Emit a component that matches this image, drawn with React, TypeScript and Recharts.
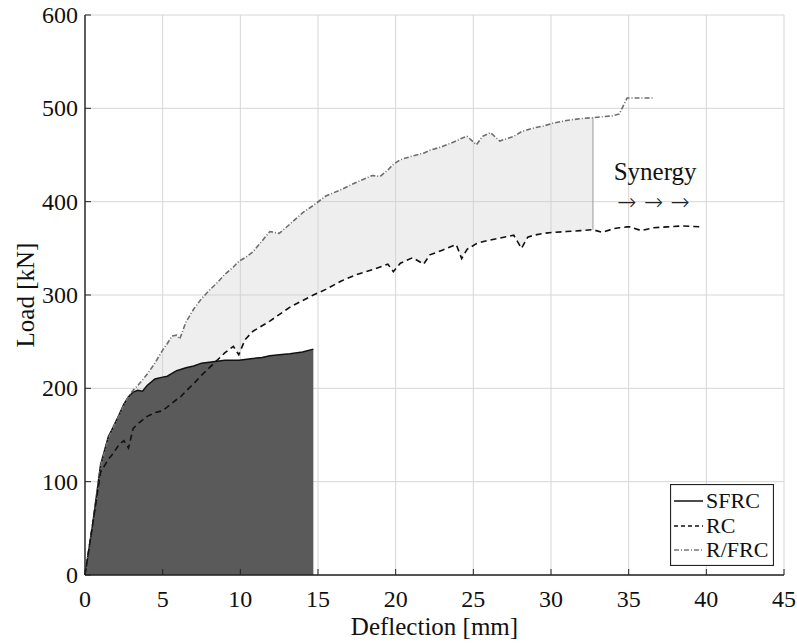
import {
  ComposedChart,
  Line,
  Area,
  XAxis,
  YAxis,
  CartesianGrid,
  Legend,
  ReferenceLine,
  ReferenceDot,
} from "recharts";

// deflection [mm] sample points shared by all three curves
const deflection = [
  0, 0.5, 1.0, 1.5, 1.8, 2.2, 2.5, 2.8, 3.1, 3.4, 3.7, 4.0, 4.5, 5.0, 5.3, 5.6, 5.9, 6.1,
  6.5, 7.0, 7.5, 8.0, 8.5, 9.0, 9.55, 9.9, 10.3, 10.8, 11.4, 11.9, 12.5, 13.2, 14.0, 14.7,
  15.5, 16.5, 17.5, 18.5, 19.0, 19.5, 19.85, 20.3, 21.1, 21.8, 22.2, 23.0, 23.9, 24.25,
  24.6, 25.2, 25.6, 26.1, 26.7, 27.6, 28.1, 28.5, 28.9, 29.5, 30.1, 31.0, 31.9, 32.7,
  33.3, 34.0, 34.4, 34.9, 35.1, 35.8, 36.6, 37.5, 38.5, 39.6,
];

// load [kN]; SFRC stops at 14.7 mm, R/FRC at 36.6 mm
const sfrcLoad = [
  0, 55, 118, 148, 158, 172, 183, 191, 196, 198, 197, 203, 210, 212, 213, 216, 219, 220,
  222, 224, 227, 228, 229, 230, 230, 230, 231, 232, 233, 235, 236, 237, 239, 242,
];

const rcLoad = [
  0, 55, 110, 124, 130, 140, 144, 136, 157, 162, 166, 170, 174, 176, 180, 184, 188, 190,
  197, 205, 214, 222, 230, 238, 245, 236, 252, 261, 267, 272, 279, 287, 294, 300,
  306, 315, 322, 327, 330, 333, 325, 334, 340, 333, 343, 348, 354, 339,
  349, 355, 357, 359, 361, 364, 350, 362, 364, 366, 367, 368, 369, 370,
  367, 371, 372, 373, 373, 369, 372, 373, 374, 373,
];

const rfrcLoad = [
  0, 55, 116, 146, 157, 171, 182, 191, 198, 203, 209, 215, 227, 241, 248, 256, 257, 253,
  271, 285, 296, 305, 313, 322, 330, 336, 340, 346, 358, 368, 366, 376, 388, 396,
  406, 413, 421, 428, 427, 434, 440, 445, 449, 452, 455, 459, 465, 468,
  470, 461, 470, 474, 465, 470, 475, 477, 479, 481, 484, 487, 489, 490,
  491, 492, 494, 511, 511, 511, 511,
];

const seriesNames = ["SFRC", "RC", "R/FRC"];
const xTicks = [0, 5, 10, 15, 20, 25, 30, 35, 40, 45];
const yTicks = [0, 100, 200, 300, 400, 500, 600];
const synergyStart = 2.8;
const synergyEnd = 32.7;

const rows = deflection.map((x, i) => ({
  x,
  sfrc: sfrcLoad[i] ?? null,
  rc: rcLoad[i] ?? null,
  rfrc: rfrcLoad[i] ?? null,
  band:
    x >= synergyStart && x <= synergyEnd ? [rcLoad[i], rfrcLoad[i]] : null,
}));

const endIdx = deflection.indexOf(synergyEnd);

const FONT = "'Liberation Serif', 'Times New Roman', serif";
const AXIS = "#222";
const tickText = { fontFamily: FONT, fontSize: 24, fill: "#111" };

const renderXTick = (props: any) => (
  <text x={props.x} y={props.y + 17} textAnchor="middle" style={tickText}>
    {props.payload.value}
  </text>
);

const renderYTick = (props: any) => (
  <text x={props.x} y={props.y + 8} textAnchor="end" style={tickText}>
    {props.payload.value}
  </text>
);

function LegendBox() {
  const rowsY = [17, 42, 66];
  return (
    <svg width={104} height={82} style={{ display: "block" }}>
      <rect x={0.5} y={0.5} width={103} height={81} fill="#fff" stroke="#222" strokeWidth={1.2} />
      <line x1={4} x2={33} y1={rowsY[0]} y2={rowsY[0]} stroke="#111" strokeWidth={1.5} />
      <line x1={4} x2={33} y1={rowsY[1]} y2={rowsY[1]} stroke="#111" strokeWidth={1.5} strokeDasharray="4 3" />
      <line x1={4} x2={33} y1={rowsY[2]} y2={rowsY[2]} stroke="#777" strokeWidth={1.3} strokeDasharray="5 2 1 2" />
      {seriesNames.map((n, i) => (
        <text key={n} x={36} y={rowsY[i] + 7} fontFamily={FONT} fontSize={22} fill="#111">
          {n}
        </text>
      ))}
    </svg>
  );
}

export default function App() {
  return (
    <div style={{ position: "absolute", left: 0, top: 0, background: "#fff", fontFamily: FONT }}>
      <ComposedChart
        width={797}
        height={643}
        data={rows}
        margin={{ top: 15, right: 13, bottom: 0, left: 0 }}
        style={{ fontFamily: FONT }}
      >
        <CartesianGrid stroke="#d6d6d6" strokeWidth={1} />
        <XAxis
          dataKey="x"
          type="number"
          domain={[0, 45]}
          ticks={xTicks}
          height={68}
          tick={renderXTick}
          tickSize={-6}
          tickMargin={21}
          tickLine={{ stroke: AXIS }}
          axisLine={{ stroke: AXIS, strokeWidth: 1.4 }}
          label={{
            value: "Deflection [mm]",
            position: "insideBottom",
            offset: 8,
            style: { fontFamily: FONT, fontSize: 25, fill: "#111" },
          }}
        />
        <XAxis
          xAxisId="top"
          orientation="top"
          type="number"
          domain={[0, 45]}
          ticks={xTicks}
          height={0}
          tickSize={-6}
          tickFormatter={() => ""}
          tickLine={{ stroke: AXIS }}
          axisLine={{ stroke: AXIS, strokeWidth: 1.4 }}
        />
        <YAxis
          type="number"
          domain={[0, 600]}
          ticks={yTicks}
          width={85}
          tick={renderYTick}
          tickSize={-6}
          tickMargin={13}
          tickLine={{ stroke: AXIS }}
          axisLine={{ stroke: AXIS, strokeWidth: 1.4 }}
          label={{
            value: "Load [kN]",
            angle: -90,
            position: "insideLeft",
            offset: 25,
            style: { fontFamily: FONT, fontSize: 25, fill: "#111", textAnchor: "middle" },
          }}
        />
        <YAxis
          yAxisId="right"
          orientation="right"
          type="number"
          domain={[0, 600]}
          ticks={yTicks}
          width={0}
          tickSize={-6}
          tickFormatter={() => ""}
          tickLine={{ stroke: AXIS }}
          axisLine={{ stroke: AXIS, strokeWidth: 1.4 }}
        />
        <Area
          dataKey="band"
          type="linear"
          fill="#cfcfcf"
          fillOpacity={0.35}
          stroke="none"
          isAnimationActive={false}
          connectNulls={false}
          legendType="none"
        />
        <ReferenceLine
          segment={[
            { x: synergyEnd, y: rcLoad[endIdx] },
            { x: synergyEnd, y: rfrcLoad[endIdx] },
          ]}
          stroke="#9a9a9a"
          strokeWidth={1}
        />
        <Area
          dataKey="sfrc"
          type="linear"
          fill="#5a5a5a"
          fillOpacity={1}
          stroke="#111"
          strokeWidth={1.5}
          isAnimationActive={false}
          connectNulls={false}
          name={seriesNames[0]}
        />
        <Line
          dataKey="rfrc"
          type="linear"
          stroke="#6e6e6e"
          strokeWidth={1.6}
          strokeDasharray="5 2 1 2"
          dot={false}
          isAnimationActive={false}
          connectNulls={false}
          name={seriesNames[2]}
        />
        <Line
          dataKey="rc"
          type="linear"
          stroke="#111"
          strokeWidth={1.6}
          strokeDasharray="6 4"
          dot={false}
          isAnimationActive={false}
          connectNulls={false}
          name={seriesNames[1]}
        />
        <ReferenceDot
          x={36.7}
          y={433}
          r={0}
          fill="none"
          stroke="none"
          label={{
            value: "Synergy",
            position: "center",
            style: { fontFamily: FONT, fontSize: 25, fill: "#111" },
          }}
        />
        <ReferenceDot
          x={36.6}
          y={400}
          r={0}
          fill="none"
          stroke="none"
          label={{
            value: "→  →  →",
            position: "center",
            style: { fontFamily: "'DejaVu Sans', sans-serif", fontWeight: 200, fontSize: 23, fill: "#222" },
          }}
        />
        <Legend
          layout="horizontal"
          verticalAlign="middle"
          align="center"
          content={() => <LegendBox />}
          wrapperStyle={{ left: 670, top: 484, width: 104, height: 82 }}
        />
      </ComposedChart>
    </div>
  );
}
